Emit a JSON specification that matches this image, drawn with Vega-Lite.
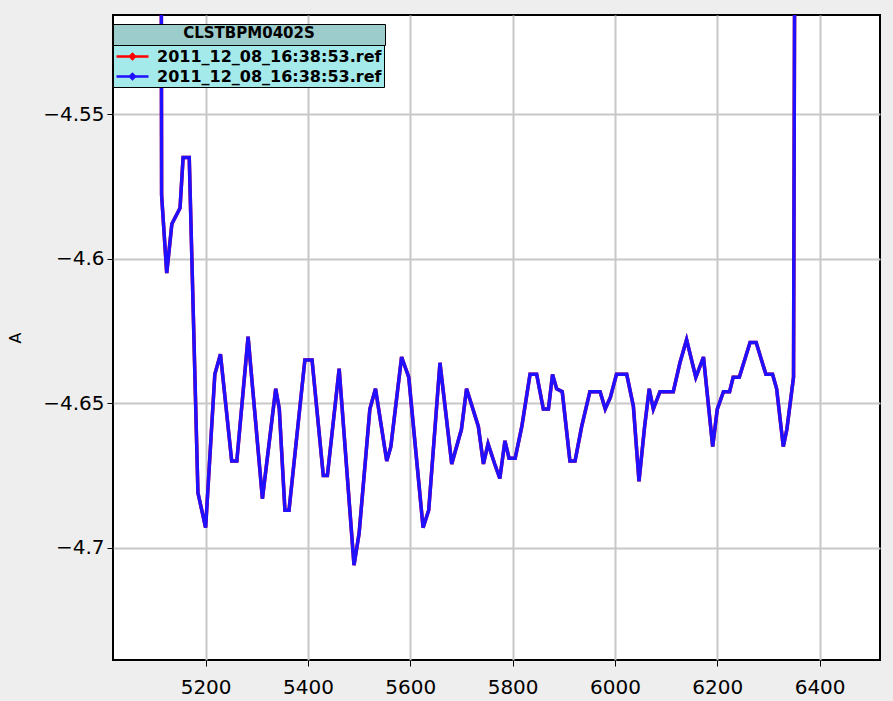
{
  "$schema": "https://vega.github.io/schema/vega-lite/v6.json",
  "autosize": "none",
  "width": 767,
  "height": 645,
  "padding": {"left": 113, "top": 15, "right": 13, "bottom": 41},
  "background": "#eeeeee",
  "config": {
    "view": {"fill": "#ffffff", "stroke": "#000000", "strokeWidth": 2},
    "axis": {
      "labelFont": "DejaVu Sans",
      "labelFontSize": 20,
      "labelColor": "#000000",
      "tickColor": "#000000",
      "tickSize": 6,
      "tickWidth": 1,
      "domain": false,
      "gridColor": "#c8c8c8",
      "gridWidth": 2
    }
  },
  "datasets": {
    "ref": [
      {"s": 5113, "A": -4.45},
      {"s": 5114, "A": -4.578},
      {"s": 5124, "A": -4.605},
      {"s": 5134, "A": -4.588},
      {"s": 5150, "A": -4.5825},
      {"s": 5156, "A": -4.565},
      {"s": 5168, "A": -4.565},
      {"s": 5185, "A": -4.681},
      {"s": 5200, "A": -4.693},
      {"s": 5218, "A": -4.640},
      {"s": 5229, "A": -4.633},
      {"s": 5251, "A": -4.670},
      {"s": 5261, "A": -4.670},
      {"s": 5283, "A": -4.627},
      {"s": 5311, "A": -4.683},
      {"s": 5337, "A": -4.645},
      {"s": 5344, "A": -4.652},
      {"s": 5355, "A": -4.687},
      {"s": 5363, "A": -4.687},
      {"s": 5394, "A": -4.635},
      {"s": 5408, "A": -4.635},
      {"s": 5430, "A": -4.675},
      {"s": 5438, "A": -4.675},
      {"s": 5461, "A": -4.638},
      {"s": 5490, "A": -4.706},
      {"s": 5500, "A": -4.695},
      {"s": 5521, "A": -4.652},
      {"s": 5532, "A": -4.645},
      {"s": 5554, "A": -4.670},
      {"s": 5562, "A": -4.665},
      {"s": 5583, "A": -4.634},
      {"s": 5597, "A": -4.641},
      {"s": 5625, "A": -4.693},
      {"s": 5636, "A": -4.687},
      {"s": 5658, "A": -4.636},
      {"s": 5681, "A": -4.671},
      {"s": 5700, "A": -4.659},
      {"s": 5710, "A": -4.645},
      {"s": 5733, "A": -4.658},
      {"s": 5743, "A": -4.671},
      {"s": 5752, "A": -4.664},
      {"s": 5765, "A": -4.671},
      {"s": 5775, "A": -4.676},
      {"s": 5785, "A": -4.663},
      {"s": 5793, "A": -4.669},
      {"s": 5805, "A": -4.669},
      {"s": 5818, "A": -4.658},
      {"s": 5834, "A": -4.640},
      {"s": 5847, "A": -4.640},
      {"s": 5860, "A": -4.652},
      {"s": 5870, "A": -4.652},
      {"s": 5878, "A": -4.640},
      {"s": 5886, "A": -4.645},
      {"s": 5897, "A": -4.646},
      {"s": 5912, "A": -4.670},
      {"s": 5922, "A": -4.670},
      {"s": 5935, "A": -4.658},
      {"s": 5951, "A": -4.646},
      {"s": 5971, "A": -4.646},
      {"s": 5981, "A": -4.652},
      {"s": 5991, "A": -4.648},
      {"s": 6003, "A": -4.640},
      {"s": 6023, "A": -4.640},
      {"s": 6036, "A": -4.651},
      {"s": 6047, "A": -4.677},
      {"s": 6058, "A": -4.658},
      {"s": 6067, "A": -4.645},
      {"s": 6075, "A": -4.652},
      {"s": 6088, "A": -4.646},
      {"s": 6114, "A": -4.646},
      {"s": 6127, "A": -4.636},
      {"s": 6140, "A": -4.628},
      {"s": 6158, "A": -4.641},
      {"s": 6173, "A": -4.634},
      {"s": 6191, "A": -4.665},
      {"s": 6200, "A": -4.652},
      {"s": 6212, "A": -4.646},
      {"s": 6224, "A": -4.646},
      {"s": 6231, "A": -4.641},
      {"s": 6243, "A": -4.641},
      {"s": 6264, "A": -4.629},
      {"s": 6276, "A": -4.629},
      {"s": 6295, "A": -4.640},
      {"s": 6308, "A": -4.640},
      {"s": 6316, "A": -4.645},
      {"s": 6329, "A": -4.665},
      {"s": 6336, "A": -4.659},
      {"s": 6349, "A": -4.641},
      {"s": 6352, "A": -4.45}
    ]
  },
  "data": {"name": "ref"},
  "encoding": {
    "x": {
      "field": "s",
      "type": "quantitative",
      "scale": {"domain": [5019, 6518], "nice": false, "zero": false},
      "axis": {
        "values": [5200, 5400, 5600, 5800, 6000, 6200, 6400],
        "format": "d",
        "labelPadding": 11,
        "title": null
      }
    },
    "y": {
      "field": "A",
      "type": "quantitative",
      "scale": {"domain": [-4.7388, -4.5157], "nice": false, "zero": false},
      "axis": {
        "values": [-4.55, -4.6, -4.65, -4.7],
        "format": ".2~f",
        "labelPadding": 3,
        "title": "A",
        "titleFont": "DejaVu Sans",
        "titleFontSize": 16,
        "titleFontWeight": "normal",
        "titleColor": "#000000",
        "titlePadding": 19
      }
    }
  },
  "layer": [
    {
      "mark": {"type": "line", "strokeWidth": 3.5, "clip": true},
      "encoding": {
        "color": {
          "datum": "r",
          "type": "nominal",
          "scale": {"domain": ["r", "b"], "range": ["#ff0000", "#2010ff"]},
          "legend": {
            "orient": "none",
            "legendX": 0,
            "legendY": 28,
            "title": null,
            "fillColor": "#a4eaea",
            "strokeColor": "#000000",
            "padding": 2,
            "symbolType": "M-1,0H2.2M0.35,0L0.6,-0.25L0.85,0L0.6,0.25Z",
            "symbolSize": 400,
            "symbolStrokeWidth": 2.5,
            "labelFont": "DejaVu Sans",
            "labelFontWeight": "bold",
            "labelFontSize": 16,
            "labelColor": "#000000",
            "labelLimit": 1000,
            "labelOffset": 19,
            "rowPadding": 0,
            "labelExpr": "'2011_12_08_16:38:53.ref'"
          }
        }
      }
    },
    {
      "mark": {"type": "line", "strokeWidth": 3.5, "clip": true},
      "encoding": {
        "color": {"datum": "b", "type": "nominal"}
      }
    },
    {
      "mark": {"type": "point", "opacity": 0, "clip": true},
      "encoding": {
        "shape": {
          "datum": "CLSTBPM0402S",
          "type": "nominal",
          "scale": {"domain": ["CLSTBPM0402S", "CLSTBPM0402S-"], "range": ["circle", "circle"]},
          "legend": {
            "orient": "none",
            "legendX": 0,
            "legendY": 9,
            "title": "CLSTBPM0402S",
            "titleAnchor": "middle",
            "titleFont": "DejaVu Sans",
            "titleFontWeight": "bold",
            "titleFontSize": 15,
            "titleColor": "#000000",
            "titlePadding": 0,
            "titleLimit": 1000,
            "fillColor": "#9ccccc",
            "strokeColor": "#000000",
            "padding": 2,
            "columns": 2,
            "columnPadding": 262,
            "symbolSize": 1,
            "symbolOpacity": 0,
            "symbolStrokeColor": "transparent",
            "labelOffset": 0,
            "labelFontSize": 1,
            "labelExpr": "''"
          }
        }
      }
    }
  ]
}
